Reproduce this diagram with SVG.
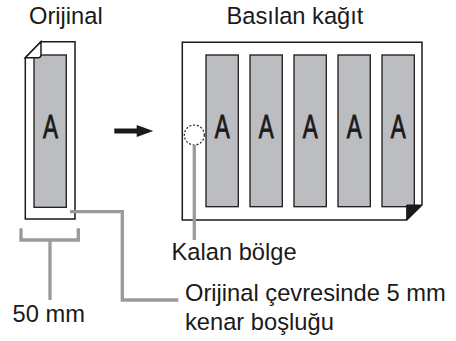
<svg xmlns="http://www.w3.org/2000/svg" width="456" height="341" viewBox="0 0 456 341">
<style>
.lbl{font-family:"Liberation Sans",Arial,sans-serif;font-size:23.7px;fill:#1a1a1a}
.page{fill:#fff;stroke:#1a1a1a;stroke-width:1.5;stroke-linejoin:miter}
.img{fill:#bcbdc0;stroke:#1a1a1a;stroke-width:1.3}
.a{font-family:"Liberation Sans",Arial,sans-serif;font-size:34px;fill:#1a1a1a;stroke:#1a1a1a;stroke-width:0.9;text-anchor:middle}
.lead{fill:none;stroke:#999a9c;stroke-width:3.3;stroke-linejoin:miter}
</style>
<rect width="456" height="341" fill="#fff"/>
<g id="original">
<path class="page" d="M41,41.7 H75 V219 H25.3 V57.7 Z"/>
<rect class="img" x="34" y="55" width="32.3" height="152.3"/>
<path class="page" d="M41,41.7 V55 Q41,57.7 38.3,57.7 H25.3 Z"/>
<text class="a" transform="translate(50.5,138.3) scale(0.66,1)">A</text>
</g>
<g id="printed">
<path class="page" d="M182.3,42.3 H422 V205 L406.7,220 H182.3 Z"/>
<rect class="img" x="206" y="55" width="32.3" height="151.7"/>
<rect class="img" x="250" y="55" width="32.3" height="151.7"/>
<rect class="img" x="294" y="55" width="32.3" height="151.7"/>
<rect class="img" x="338" y="55" width="32.3" height="151.7"/>
<rect class="img" x="382" y="55" width="32.3" height="151.7"/>
<path d="M406.7,205 H422 L406.7,220 Z" fill="#1a1a1a" stroke="#1a1a1a" stroke-width="1"/>
<text class="a" transform="translate(222.2,138.3) scale(0.66,1)">A</text>
<text class="a" transform="translate(266.2,138.3) scale(0.66,1)">A</text>
<text class="a" transform="translate(310.2,138.3) scale(0.66,1)">A</text>
<text class="a" transform="translate(354.2,138.3) scale(0.66,1)">A</text>
<text class="a" transform="translate(398.2,138.3) scale(0.66,1)">A</text>
<circle cx="194.3" cy="135" r="10" fill="#fff" stroke="#1a1a1a" stroke-width="1.2" stroke-dasharray="2 1.8"/>
</g>
<g id="connectors">
<path d="M114.3,131 H138" stroke="#1a1a1a" stroke-width="5" fill="none"/>
<polygon points="136.7,125 153.3,131 136.7,137" fill="#1a1a1a"/>
<path class="lead" d="M21,228.3 V240 H78.3 V228.3"/>
<path class="lead" d="M50,240 V300"/>
<path class="lead" d="M70,211.7 H122.3 V300 H178.3"/>
<path class="lead" d="M194.3,145 V240"/>
</g>
<g id="labels">
<text class="lbl" x="29" y="24">Orijinal</text>
<text class="lbl" x="226.5" y="23.5">Basılan kağıt</text>
<text class="lbl" x="171.5" y="260">Kalan bölge</text>
<text class="lbl" x="185" y="301">Orijinal çevresinde 5 mm</text>
<text class="lbl" x="185" y="330">kenar boşluğu</text>
<text class="lbl" x="12.5" y="321.5">50 mm</text>
</g>
</svg>
